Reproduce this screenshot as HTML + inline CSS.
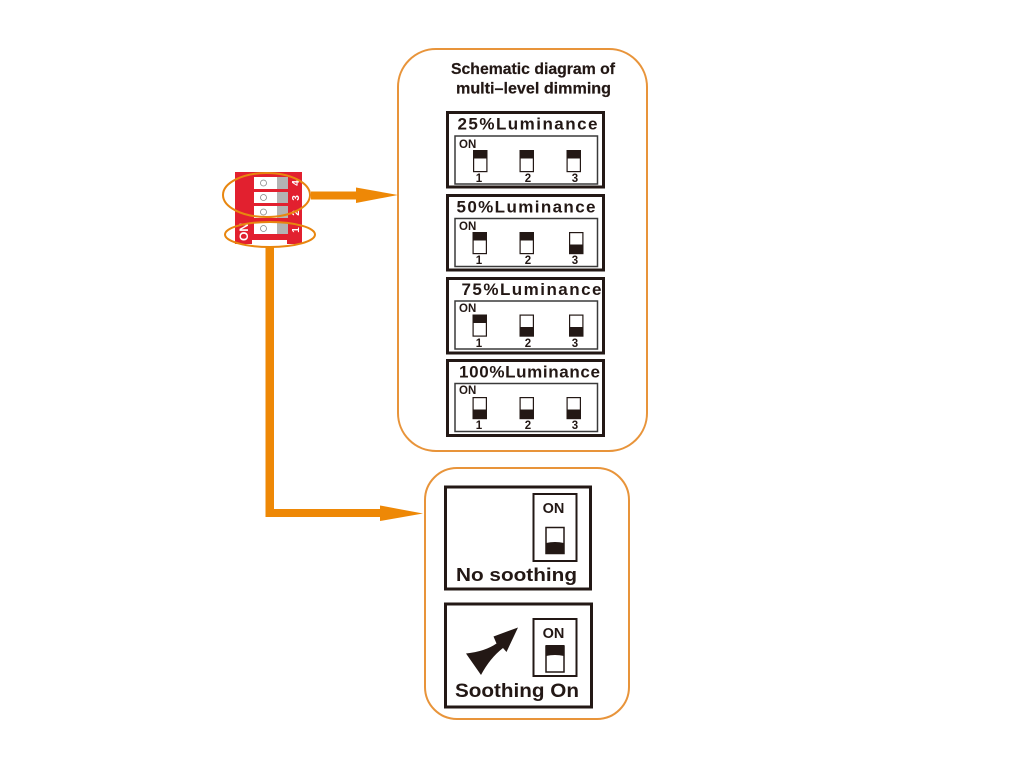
<!DOCTYPE html>
<html>
<head>
<meta charset="utf-8">
<style>
html,body{margin:0;padding:0;background:#fff;width:1024px;height:768px;overflow:hidden}
svg{display:block}
text{font-family:"Liberation Sans",sans-serif;font-weight:bold;fill:#231815}
</style>
</head>
<body>
<svg width="1024" height="768" viewBox="0 0 1024 768" xmlns="http://www.w3.org/2000/svg">
<defs>
<g id="on"><rect x="0.6" y="0.6" width="13.3" height="21" fill="#fff" stroke="#231815" stroke-width="1.2"/><rect x="0" y="0" width="14.5" height="8.5" fill="#231815"/></g>
<g id="off"><rect x="0.6" y="0.6" width="13.3" height="21" fill="#fff" stroke="#231815" stroke-width="1.2"/><rect x="0" y="12.5" width="14.5" height="9.5" fill="#231815"/></g>
</defs>

<!-- rounded panels -->
<rect x="398" y="49" width="249" height="402" rx="38" ry="38" fill="#fff" stroke="#e8943a" stroke-width="2"/>
<rect x="425" y="468" width="204" height="251" rx="32" ry="32" fill="#fff" stroke="#e8943a" stroke-width="2"/>

<!-- red DIP switch -->
<rect x="235" y="172" width="67" height="72" fill="#e2202f"/>
<rect x="252" y="240" width="35" height="6" fill="#fff"/>
<g>
<rect x="254" y="177" width="24" height="12" fill="#fff"/><rect x="277" y="177" width="11" height="12" fill="#b3b3b3"/><circle cx="263.500" cy="183" r="3" fill="#fff" stroke="#888" stroke-width="0.8"/>
<rect x="254" y="192" width="24" height="11" fill="#fff"/><rect x="277" y="192" width="11" height="11" fill="#b3b3b3"/><circle cx="263.500" cy="197.500" r="3" fill="#fff" stroke="#888" stroke-width="0.8"/>
<rect x="254" y="206" width="24" height="12" fill="#fff"/><rect x="277" y="206" width="11" height="12" fill="#b3b3b3"/><circle cx="263.500" cy="212" r="3" fill="#fff" stroke="#888" stroke-width="0.8"/>
<rect x="254" y="223" width="24" height="11" fill="#fff"/><rect x="277" y="223" width="11" height="11" fill="#b3b3b3"/><circle cx="263.500" cy="228.500" r="3" fill="#fff" stroke="#888" stroke-width="0.8"/>
</g>
<text transform="translate(299,183) rotate(-90)" text-anchor="middle" style="fill:#fff;font-size:10px">4</text>
<text transform="translate(299,198) rotate(-90)" text-anchor="middle" style="fill:#fff;font-size:10px">3</text>
<text transform="translate(299,213) rotate(-90)" text-anchor="middle" style="fill:#fff;font-size:10px">2</text>
<text transform="translate(299,230) rotate(-90)" text-anchor="middle" style="fill:#fff;font-size:10px">1</text>
<text transform="translate(248,232) rotate(-90)" text-anchor="middle" style="fill:#fff;font-size:12px">ON</text>
<ellipse cx="266.500" cy="195" rx="43.500" ry="22" fill="none" stroke="#e8860f" stroke-width="2"/>
<ellipse cx="270" cy="234.500" rx="45" ry="12.500" fill="none" stroke="#e8860f" stroke-width="2"/>

<!-- arrows -->
<rect x="311" y="191.500" width="46" height="8" fill="#ee8806"/>
<polygon points="356,187.500 398,195 356,203" fill="#ee8806"/>
<rect x="265.500" y="247" width="8.500" height="270" fill="#ee8806"/>
<rect x="265.500" y="509" width="116" height="8" fill="#ee8806"/>
<polygon points="380,505.500 423,513.500 380,521" fill="#ee8806"/>

<!-- title -->
<text x="451" y="74" font-size="15.500" textLength="164" lengthAdjust="spacingAndGlyphs" stroke="#231815" stroke-width="0.2">Schematic diagram of</text>
<text x="456" y="93.500" font-size="15.500" textLength="155" lengthAdjust="spacingAndGlyphs" stroke="#231815" stroke-width="0.2">multi–level dimming</text>

<!-- 25% -->
<g>
<rect x="447.500" y="112.500" width="156" height="74.500" fill="#fff" stroke="#231815" stroke-width="3"/>
<rect x="455" y="136" width="142.500" height="48" fill="#fff" stroke="#3a3a3a" stroke-width="1.5"/>
<text x="457.500" y="129.500" font-size="17" textLength="140" lengthAdjust="spacing">25%Luminance</text>
<text x="459" y="148" font-size="11.500">ON</text>
<use href="#on" x="473" y="150"/><use href="#on" x="519.500" y="150"/><use href="#on" x="566.500" y="150"/>
<text x="479" y="182" font-size="11.500" text-anchor="middle">1</text><text x="528" y="182" font-size="11.500" text-anchor="middle">2</text><text x="575" y="182" font-size="11.500" text-anchor="middle">3</text>
</g>
<!-- 50% -->
<g>
<rect x="447.500" y="195.500" width="156" height="74.500" fill="#fff" stroke="#231815" stroke-width="3"/>
<rect x="455" y="218.500" width="142.500" height="48" fill="#fff" stroke="#3a3a3a" stroke-width="1.5"/>
<text x="456.500" y="212.500" font-size="17" textLength="139" lengthAdjust="spacing">50%Luminance</text>
<text x="459" y="230" font-size="11.500">ON</text>
<use href="#on" x="472.500" y="232"/><use href="#on" x="519.500" y="232"/><use href="#off" x="569" y="232"/>
<text x="479" y="264" font-size="11.500" text-anchor="middle">1</text><text x="528" y="264" font-size="11.500" text-anchor="middle">2</text><text x="575" y="264" font-size="11.500" text-anchor="middle">3</text>
</g>
<!-- 75% -->
<g>
<rect x="447.500" y="278.500" width="156" height="74.500" fill="#fff" stroke="#231815" stroke-width="3"/>
<rect x="455" y="301" width="142.500" height="48" fill="#fff" stroke="#3a3a3a" stroke-width="1.5"/>
<text x="461.500" y="295" font-size="17" textLength="140" lengthAdjust="spacing">75%Luminance</text>
<text x="459" y="312" font-size="11.500">ON</text>
<use href="#on" x="472.500" y="314.500"/><use href="#off" x="519.500" y="314.500"/><use href="#off" x="569" y="314.500"/>
<text x="479" y="347" font-size="11.500" text-anchor="middle">1</text><text x="528" y="347" font-size="11.500" text-anchor="middle">2</text><text x="575" y="347" font-size="11.500" text-anchor="middle">3</text>
</g>
<!-- 100% -->
<g>
<rect x="447.500" y="360.500" width="156" height="75" fill="#fff" stroke="#231815" stroke-width="3"/>
<rect x="455" y="383.500" width="142.500" height="48" fill="#fff" stroke="#3a3a3a" stroke-width="1.5"/>
<text x="459" y="377.500" font-size="17" textLength="141" lengthAdjust="spacing">100%Luminance</text>
<text x="459" y="394" font-size="11.500">ON</text>
<use href="#off" x="472.500" y="397"/><use href="#off" x="519.500" y="397"/><use href="#off" x="566.500" y="397"/>
<text x="479" y="429" font-size="11.500" text-anchor="middle">1</text><text x="528" y="429" font-size="11.500" text-anchor="middle">2</text><text x="575" y="429" font-size="11.500" text-anchor="middle">3</text>
</g>

<!-- No soothing -->
<rect x="445.500" y="487" width="145" height="102" fill="#fff" stroke="#231815" stroke-width="3"/>
<rect x="533.500" y="494" width="43" height="67" fill="#fff" stroke="#231815" stroke-width="2"/>
<text x="553.500" y="513" font-size="14.500" text-anchor="middle">ON</text>
<rect x="546" y="527.500" width="18" height="26" fill="#fff" stroke="#231815" stroke-width="1.500"/>
<path d="M546,543 Q555,541 564,543 L564,554 L546,554 Z" fill="#231815"/>
<text x="456" y="581" font-size="18" textLength="121" lengthAdjust="spacingAndGlyphs">No soothing</text>

<!-- Soothing On -->
<rect x="445.500" y="604" width="146" height="103" fill="#fff" stroke="#231815" stroke-width="3"/>
<rect x="533.500" y="619" width="43" height="57" fill="#fff" stroke="#231815" stroke-width="2"/>
<text x="553.500" y="638" font-size="14.500" text-anchor="middle">ON</text>
<rect x="546" y="646" width="18" height="26" fill="#fff" stroke="#231815" stroke-width="1.500"/>
<path d="M546,645 L564,645 L564,656 Q555,654 546,656 Z" fill="#231815"/>
<path d="M518,627.500 L506.500,652 L503,648 Q490,658 481,675 L466,653.500 Q485,651.500 496.500,643.500 L493.500,636.500 Z" fill="#231815"/>
<text x="455" y="697" font-size="19" textLength="124" lengthAdjust="spacingAndGlyphs">Soothing On</text>
</svg>
</body>
</html>
